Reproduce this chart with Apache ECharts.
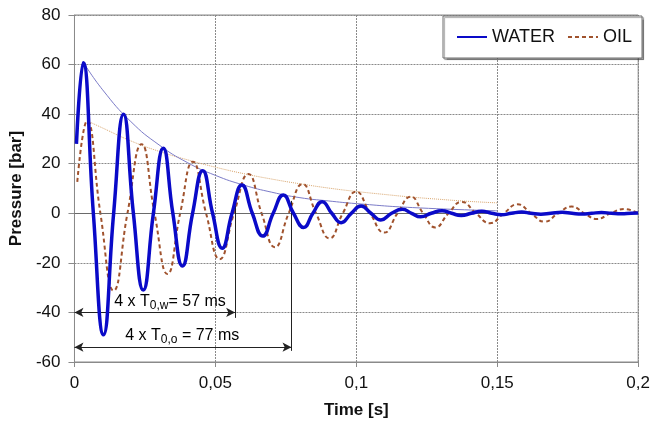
<!DOCTYPE html>
<html>
<head>
<meta charset="utf-8">
<script src="https://cdn.jsdelivr.net/npm/echarts@6/dist/echarts.min.js"></script>
<style>
html,body{margin:0;padding:0;background:#fff;}
#chart{width:653px;height:424px;}
</style>
</head>
<body>
<div id="chart"></div>
<script>
// ---- data ----
var xTicks = [0, 0.05, 0.1, 0.15, 0.2];
var yTicks = [-60, -40, -20, 0, 20, 40, 60, 80];

var waterT = [0.0007,0.0031,0.0067,0.0103,0.0139,0.0174,0.0209,0.0244,0.028,0.0315,0.0349,0.0383,0.0419,0.0455,0.049,0.0524,0.0559,0.0594,0.0631,0.0668,0.0705,0.0741,0.0777,0.0813,0.0846,0.0879,0.0913,0.0946,0.0982,0.1017,0.1052,0.1087,0.1125,0.1163,0.1196,0.1228,0.1266,0.1304,0.1338,0.1372,0.1408,0.1445,0.148,0.1515,0.155,0.1587,0.162,0.1655,0.169,0.173,0.1765,0.18,0.1835,0.187,0.1905,0.194,0.1975,0.2];
var waterP = [28,60.7,0,-49,0,40,0,-31,0,26.2,0,-21.3,0,17.2,0,-14.1,0,11.4,0,-9.2,0,7.4,0,-5.7,0,4.7,0,-3.8,0,2.9,0,-2.7,0,1.6,0,-1.4,0,1.0,0,-0.9,0,0.8,0,-0.6,0,0.5,0,-0.4,0,0.4,0,-0.3,0,0.3,0,-0.2,0,0.1];

var oilT = [0.001,0.0045,0.0092,0.0139,0.0188,0.0238,0.0284,0.033,0.0375,0.042,0.0467,0.0515,0.0566,0.0617,0.0664,0.0711,0.076,0.0809,0.0857,0.0905,0.0952,0.0999,0.1049,0.1099,0.1146,0.1193,0.1237,0.128,0.1327,0.1374,0.1424,0.1474,0.1523,0.1572,0.162,0.1668,0.1716,0.1764,0.1809,0.1853,0.1902,0.195,0.2];
var oilP = [12.7,37.3,0,-31.2,0,27.9,0,-24.5,0,20.8,0,-18.5,0,15.8,0,-13.7,0,11.8,0,-10.1,0,8.7,0,-7.8,0,6.7,0,-5.7,0,4.6,0,-4.0,0,3.6,0,-3.4,0,2.7,0,-2.3,0,1.7,0];

var waterEnvT = [0.0031,0.01,0.02,0.03,0.04,0.05,0.06,0.07,0.08,0.09,0.1,0.12,0.15];
var waterEnvP = [61,49.8,37,27.6,20.5,15.3,11.4,8.5,6.3,5.0,3.9,2.3,1.0];

var oilEnvT = [0.0045,0.01,0.02,0.03,0.04,0.05,0.06,0.07,0.08,0.09,0.1,0.11,0.12,0.13,0.14,0.15];
var oilEnvP = [37.3,34.4,29.2,25.0,21.6,18.6,16.0,13.8,11.9,10.2,8.8,7.6,6.5,5.6,4.8,4.2];

var periodW = 0.057, periodO = 0.077;   // 4 x T0 markers [s]
var arrowW = -40, arrowO = -54;          // arrow levels [bar]

function zip(a, b) { return a.map(function (v, i) { return [v, b[i]]; }); }

var FONT = '"Liberation Sans", Arial, sans-serif';
var chart = echarts.init(document.getElementById('chart'));

var option = {
  animation: false,
  backgroundColor: '#fff',
  grid: { left: 73, right: 12, top: 15, bottom: 62, show: true, borderColor: '#8a8a8a', borderWidth: 1 },
  legend: {
    data: ['WATER', 'OIL'],
    left: 443, top: 16,
    padding: [12, 10, 12, 13],
    itemWidth: 30, itemHeight: 14, itemGap: 12,
    backgroundColor: '#fff',
    borderColor: '#6f6f6f', borderWidth: 1,
    shadowColor: 'rgba(0,0,0,0.35)', shadowOffsetX: 1.5, shadowOffsetY: 1.5, shadowBlur: 1,
    itemStyle: { opacity: 0 },
    textStyle: { fontFamily: FONT, fontSize: 18, color: '#111' }
  },
  xAxis: {
    type: 'value', min: 0, max: 0.2, interval: 0.05,
    name: 'Time [s]', nameLocation: 'middle', nameGap: 40,
    nameTextStyle: { fontFamily: FONT, fontSize: 17, fontWeight: 'bold', color: '#111' },
    axisLine: { onZero: false, lineStyle: { color: '#8a8a8a', width: 1 } },
    axisTick: { show: true, length: 5, lineStyle: { color: '#8a8a8a' } },
    axisLabel: {
      margin: 13, fontFamily: FONT, fontSize: 17, color: '#111',
      formatter: function (v) { return String(+v.toFixed(3)).replace('.', ','); }
    },
    splitLine: { show: true, lineStyle: { color: '#8a8a8a', type: [2, 1], width: 1 } }
  },
  yAxis: {
    type: 'value', min: -60, max: 80, interval: 20,
    name: 'Pressure [bar]', nameLocation: 'middle', nameGap: 45,
    nameTextStyle: { fontFamily: FONT, fontSize: 17, fontWeight: 'bold', color: '#111' },
    axisLine: { show: true, lineStyle: { color: '#8a8a8a', width: 1 } },
    axisTick: { show: true, length: 6, lineStyle: { color: '#8a8a8a' } },
    axisLabel: { margin: 14, fontFamily: FONT, fontSize: 17, color: '#111' },
    splitLine: { show: true, lineStyle: { color: '#8a8a8a', type: [2, 1], width: 1 } }
  },
  series: [
    {
      name: 'oilEnv', type: 'line', data: zip(oilEnvT, oilEnvP), smooth: true,
      symbol: 'none', silent: true,
      lineStyle: { color: '#d9a66e', width: 1, type: [1, 1] }, z: 2
    },
    {
      name: 'waterEnv', type: 'line', data: zip(waterEnvT, waterEnvP), smooth: true,
      symbol: 'none', silent: true,
      lineStyle: { color: '#7b7bc8', width: 1 }, z: 2
    },
    {
      name: 'annot', type: 'line', data: [], symbol: 'none', silent: true,
      markLine: {
        silent: true, symbol: 'none', label: { show: false }, animation: false,
        lineStyle: { color: '#6a6a6a', width: 1.2, type: 'solid' },
        data: [
          [{ coord: [0, 0] }, { coord: [0.2, 0] }]
        ]
      }, z: 3
    },
    {
      name: 'OIL', type: 'line', data: zip(oilT, oilP), smooth: 0.5,
      symbol: 'none', lineStyle: { color: '#a0522d', width: 2, type: [4, 3] },
      itemStyle: { color: '#a0522d' }, z: 4
    },
    {
      name: 'WATER', type: 'line', data: zip(waterT, waterP), smooth: 0.5,
      symbol: 'none', lineStyle: { color: '#0a0ac8', width: 3.5 },
      itemStyle: { color: '#0a0ac8' }, z: 5
    },
    {
      name: 'marks', type: 'line', data: [], symbol: 'none', silent: true,
      markLine: {
        silent: true, label: { show: false }, animation: false,
        symbol: ['arrow', 'arrow'], symbolSize: [7, 9],
        lineStyle: { color: '#222', width: 1, type: 'solid' },
        data: [
          [{ coord: [0, arrowW] }, { coord: [periodW, arrowW] }],
          [{ coord: [0, arrowO] }, { coord: [periodO, arrowO] }],
          [{ coord: [periodW, -42.2], symbol: 'none' }, { coord: [periodW, 3], symbol: 'none' }],
          [{ coord: [periodO, -55.5], symbol: 'none' }, { coord: [periodO, 5], symbol: 'none' }]
        ]
      }, z: 6
    }
  ]
};
chart.setOption(option);

var p1 = chart.convertToPixel({ gridIndex: 0 }, [0.0141, -36.2]);
var p2 = chart.convertToPixel({ gridIndex: 0 }, [0.018, -49.7]);
var rich = {
  n: { fontFamily: FONT, fontSize: 16, color: '#222', verticalAlign: 'bottom', lineHeight: 18 },
  s: { fontFamily: FONT, fontSize: 12, color: '#222', verticalAlign: 'bottom', lineHeight: 18, padding: [0, 0, -2, 0] }
};
chart.setOption({
  graphic: [
    { type: 'text', left: p1[0], top: p1[1] - 9, silent: true,
      style: { text: '{n|4 x T}{s|0,w}{n|= 57 ms}', rich: rich } },
    { type: 'text', left: p2[0], top: p2[1] - 9, silent: true,
      style: { text: '{n|4 x T}{s|0,o}{n| = 77 ms}', rich: rich } }
  ]
});
</script>
</body>
</html>
